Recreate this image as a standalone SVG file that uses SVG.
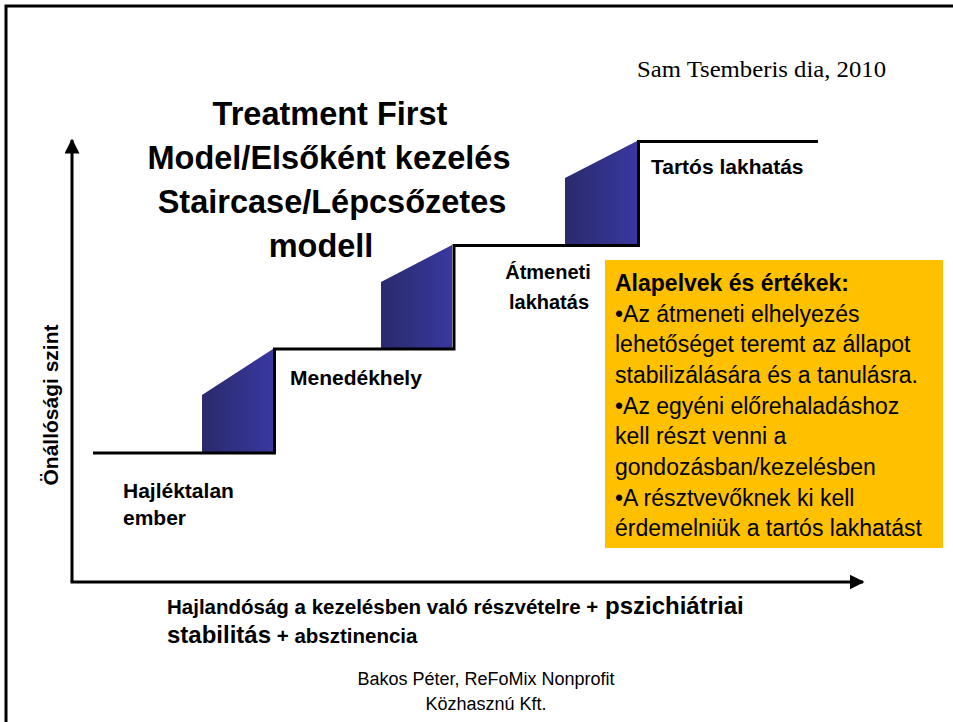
<svg xmlns="http://www.w3.org/2000/svg" width="953" height="722" viewBox="0 0 953 722">
<defs>
<linearGradient id="stepGrad" x1="0" y1="0" x2="1" y2="0">
<stop offset="0" stop-color="#2a2a6c"/>
<stop offset="1" stop-color="#3838a0"/>
</linearGradient>
<marker id="arrow" viewBox="0 0 10 10" refX="9" refY="5" markerWidth="5" markerHeight="5" markerUnits="strokeWidth" orient="auto">
<path d="M0,0 L10,5 L0,10 z" fill="#000"/>
</marker>
</defs>
<style>
.b{font-family:"Liberation Sans",Arial,sans-serif;font-weight:bold;fill:#000}
.r{font-family:"Liberation Sans",Arial,sans-serif;fill:#000}
.lbl{font-size:21px}
.box{font-size:23px}
.stair{fill:none;stroke:#000;stroke-width:3}
.wedge{fill:url(#stepGrad)}
</style>
<rect width="953" height="722" fill="#fff"/>
<!-- frame -->
<path d="M6,722 V6 H953" fill="none" stroke="#000" stroke-width="3"/>
<text x="637" y="77" font-family="'Liberation Serif',serif" font-size="23" fill="#000" textLength="249" lengthAdjust="spacingAndGlyphs">Sam Tsemberis dia, 2010</text>
<!-- title -->
<g id="title" class="b" font-size="32.5" text-anchor="middle">
<text x="330" y="125">Treatment First</text>
<text x="329" y="169">Model/Elsőként kezelés</text>
<text x="332" y="213">Staircase/Lépcsőzetes</text>
<text x="321" y="257">modell</text>
</g>
<!-- staircase -->
<g id="staircase">
<polygon class="wedge" points="202,452 202,395 273,349 273,452"/>
<polygon class="wedge" points="381,348 381,282 452,245 452,348"/>
<polygon class="wedge" points="565,245 565,178 637,141 637,245"/>
<path class="stair" d="M93,453 H274.5 V349 H454 V245.5 H638.5 V141.5 H818"/>
</g>
<!-- connectors / axes -->
<g id="axes" fill="none" stroke="#000" stroke-width="3">
<path d="M72,582 V140" marker-end="url(#arrow)"/>
<path d="M70.5,582 H863" marker-end="url(#arrow)"/>
</g>
<g id="node-hajlektalan" class="b lbl">
<text x="123" y="498">Hajléktalan</text>
<text x="123" y="525">ember</text>
</g>
<g id="node-menedekhely" class="b lbl">
<text x="290" y="385">Menedékhely</text>
</g>
<g id="node-atmeneti" class="b" font-size="20" text-anchor="middle">
<text x="548" y="279">Átmeneti</text>
<text x="549" y="309">lakhatás</text>
</g>
<g id="node-tartos" class="b lbl">
<text x="651" y="174">Tartós lakhatás</text>
</g>
<g id="y-label" class="b lbl">
<text transform="translate(58,405) rotate(-90)" text-anchor="middle">Önállósági szint</text>
</g>
<g id="principles">
<rect x="605" y="260" width="338" height="288" fill="#ffc000"/>
<text class="b box" x="615" y="291">Alapelvek és értékek:</text>
<g class="r box">
<text x="615" y="322">•Az átmeneti elhelyezés</text>
<text x="615" y="352">lehetőséget teremt az állapot</text>
<text x="615" y="383">stabilizálására és a tanulásra.</text>
<text x="615" y="414">•Az egyéni előrehaladáshoz</text>
<text x="615" y="444">kell részt venni a</text>
<text x="615" y="475">gondozásban/kezelésben</text>
<text x="615" y="506">•A résztvevőknek ki kell</text>
<text x="615" y="536">érdemelniük a tartós lakhatást</text>
</g>
</g>
<g id="x-label" class="b">
<text x="167" y="614"><tspan font-size="20.5">Hajlandóság a kezelésben való részvételre +</tspan><tspan font-size="24"> pszichiátriai</tspan></text>
<text x="167" y="643"><tspan font-size="24">stabilitás</tspan><tspan font-size="20.5"> + absztinencia</tspan></text>
</g>
<g id="footer" class="r" font-size="18" text-anchor="middle">
<text x="486" y="685">Bakos Péter, ReFoMix Nonprofit</text>
<text x="486" y="710">Közhasznú Kft.</text>
</g>
</svg>
